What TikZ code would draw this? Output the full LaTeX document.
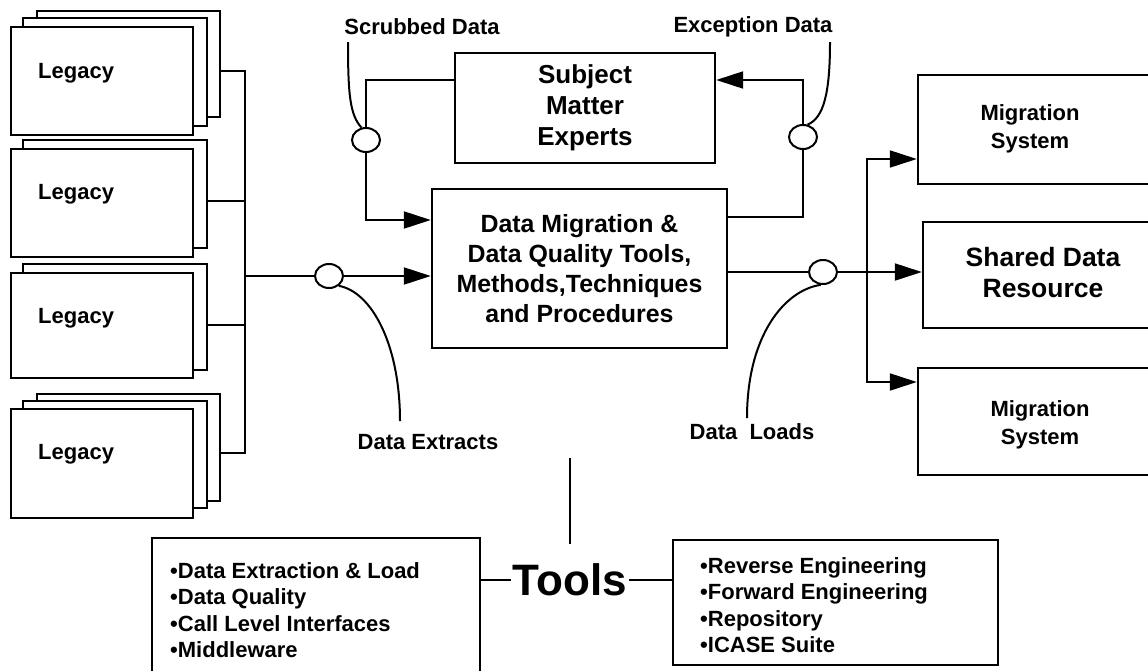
\documentclass[tikz,border=0pt]{standalone}
\usepackage{fontspec}
\setmainfont{Liberation Sans}
\usetikzlibrary{arrows.meta,calc,shapes.geometric}
\begin{document}
\begin{tikzpicture}[x=1pt,y=-1pt,
  ln/.style={line width=2pt},
  arr/.style={line width=2pt,-{Triangle[length=27pt,width=17pt]}},
  sheet/.style={draw,line width=2.4pt,fill=white,inner sep=0pt},
  boxn/.style={draw,line width=2.4pt,fill=white,inner sep=0pt,align=center},
  junc/.style={draw,line width=2pt,fill=white,ellipse,inner sep=0pt,minimum width=28pt,minimum height=24pt},
  lbl/.style={inner sep=0pt,font=\bfseries\fontsize{22}{26.5}\selectfont},
  lblb/.style={inner sep=0pt,align=center,font=\bfseries\fontsize{22}{28}\selectfont}
]
\useasboundingbox (0,0) rectangle (1148,670);

% Legacy stacks
\node[sheet,minimum width=183pt,minimum height=106pt] (A3) at (128.5,64) {};
\node[sheet,minimum width=184pt,minimum height=108pt] (A2) at (115,72) {};
\node[sheet,minimum width=182pt,minimum height=108pt] (A1) at (102,81) {};
\node[lbl,anchor=base west] (LA) at (38,78) {Legacy};

\node[sheet,minimum width=184pt,minimum height=108pt] (B2) at (115,194) {};
\node[sheet,minimum width=182pt,minimum height=108pt] (B1) at (102,203) {};
\node[lbl,anchor=base west] (LB) at (38,199) {Legacy};

\node[sheet,minimum width=184pt,minimum height=106pt] (C2) at (115,317) {};
\node[sheet,minimum width=182pt,minimum height=105pt] (C1) at (102,325.5) {};
\node[lbl,anchor=base west] (LC) at (38,323) {Legacy};

\node[sheet,minimum width=183pt,minimum height=107pt] (D3) at (128.5,447.5) {};
\node[sheet,minimum width=184pt,minimum height=107pt] (D2) at (115,454.5) {};
\node[sheet,minimum width=182pt,minimum height=109pt] (D1) at (102,463.5) {};
\node[lbl,anchor=base west] (LD) at (38,459) {Legacy};

% bus
\coordinate (jA) at (245,71);
\coordinate (jB) at (245,201);
\coordinate (jM) at (245,276);
\coordinate (jC) at (245,325);
\coordinate (jD) at (245,453);
\draw[ln] (A3.east |- jA) -- (jA) -- (jD) -- (D3.east |- jD);
\draw[ln] (B2.east |- jB) -- (jB);
\draw[ln] (C2.east |- jC) -- (jC);

% central boxes
\node[boxn,minimum width=260pt,minimum height=110pt,font=\bfseries\fontsize{26}{31}\selectfont] (SME) at (585,108) {Subject\\Matter\\Experts};
\node[boxn,minimum width=295pt,minimum height=159pt,font=\bfseries\fontsize{24.9}{30}\selectfont] (DM) at (579.5,268.5) {Data Migration \&\\Data Quality Tools,\\Methods,Techniques\\and Procedures};

% right boxes
\node[sheet,minimum width=262pt,minimum height=109pt] (MS1) at (1049,129.5) {};
\node[lblb] (TMS1) at (1030,129) {Migration\\System};
\node[sheet,minimum width=257pt,minimum height=106pt] (SDR) at (1051.5,275) {};
\node[lblb,font=\bfseries\fontsize{26.5}{31}\selectfont] (TSDR) at (1043,272.5) {Shared Data\\Resource};
\node[sheet,minimum width=262pt,minimum height=107pt] (MS2) at (1049,421.5) {};
\node[lblb] (TMS2) at (1040,425) {Migration\\System};

% data extracts
\node[junc] (cDE) at (329,276) {};
\draw[ln] (jM) -- (cDE);
\draw[arr] (cDE) -- (DM.west |- cDE);
\node[lbl] (lDE) at (428,442) {Data Extracts};
\coordinate (dc) at (400,421);
\draw[ln] (cDE.-45) .. controls (372,292) and (400,345) .. (dc);

% scrubbed data
\node[lbl] (lS) at (422,27) {Scrubbed Data};
\node[junc] (cS) at (366,140) {};
\coordinate (s1) at (366,80);
\coordinate (s2) at (366,220);
\draw[ln] (SME.west |- s1) -- (s1) -- (cS);
\draw[arr] (cS) -- (s2) -- (DM.west |- s2);
\coordinate (sc) at (348,42);
\draw[ln] (sc) .. controls (348,95) and (350,115) .. (cS.110);

% exception data
\node[lbl] (lE) at (753,27) {Exception Data};
\node[junc] (cE) at (803,137) {};
\coordinate (e1) at (803,217);
\coordinate (e2) at (803,80);
\draw[ln] (DM.east |- e1) -- (e1) -- (cE);
\draw[arr] (cE) -- (e2) -- (SME.east |- e2);
\coordinate (ec) at (830,42);
\draw[ln] (ec) .. controls (830,92) and (824,118) .. (cE.70);

% data loads
\node[junc] (cL) at (823,272) {};
\draw[ln] (DM.east |- cL) -- (cL);
\draw[arr] (cL) -- (SDR.west |- cL);
\coordinate (r1) at (867,159);
\coordinate (r2) at (867,382);
\draw[arr] (r2) -- (r1) -- (MS1.west |- r1);
\draw[arr] (r1) -- (r2) -- (MS2.west |- r2);
\node[lbl] (lL) at (752,432) {Data\ \ Loads};
\coordinate (lc) at (747,418);
\draw[ln] (cL.-100) .. controls (785,290) and (747,335) .. (lc);

% tools
\node[sheet,minimum width=328pt,minimum height=162pt] (LT) at (316,619) {};
\node[lbl,anchor=west,align=left] (LTT) at (170,610) {•Data Extraction \& Load\\•Data Quality\\•Call Level Interfaces\\•Middleware};
\node[sheet,minimum width=325pt,minimum height=125pt] (RT) at (835.5,602.5) {};
\node[lbl,anchor=west,align=left] (RTT) at (700,605) {•Reverse Engineering\\•Forward Engineering\\•Repository\\•ICASE Suite};
\node[inner xsep=2pt,inner ysep=0pt,font=\bfseries\fontsize{44}{44}\selectfont] (Tools) at (570,580) {Tools};
\coordinate (tv) at (570,458);
\draw[ln,shorten >=20pt] (tv) -- (Tools.north);
\draw[ln] (LT.east |- Tools) -- (Tools.west);
\draw[ln] (Tools.east) -- (RT.west |- Tools);
\end{tikzpicture}
\end{document}
